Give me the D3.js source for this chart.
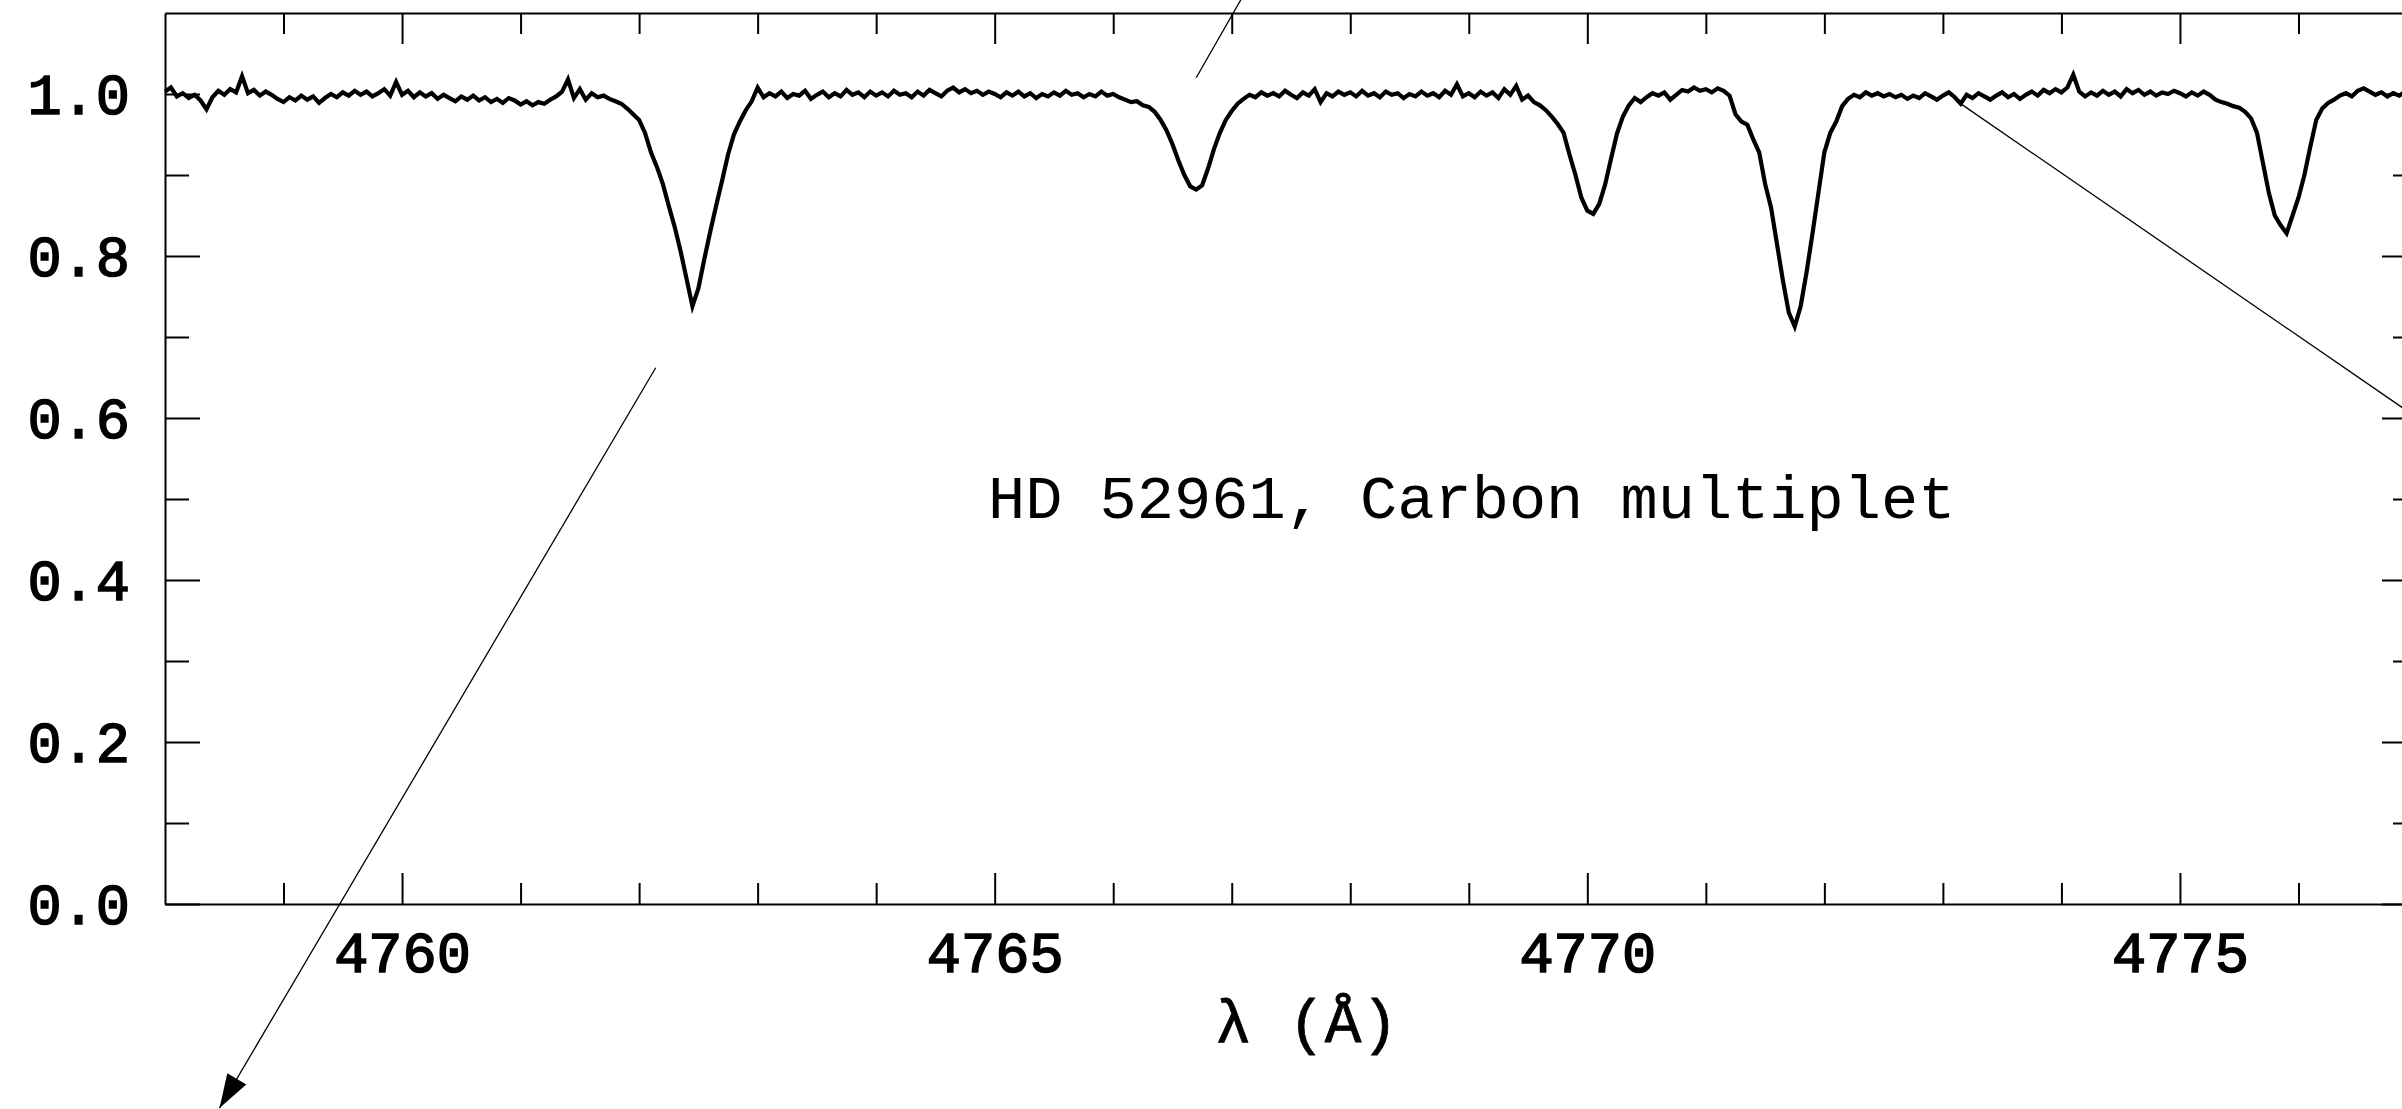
<!DOCTYPE html>
<html>
<head>
<meta charset="utf-8">
<script src="https://cdn.jsdelivr.net/npm/d3@7"></script>
<style>
  body { margin: 0; background: #fff; overflow: hidden; }
  .axis path, .axis line { stroke: #000; stroke-width: 2px; }
  .axis text { fill: #000; }
</style>
</head>
<body>
<div id="viz"></div>
<script>
// spectrum sampled every 0.05 A starting at 4758.00 A (normalised flux)
const lambdaStart = 4758.0;
const lambdaStep = 0.05;
const flux = [
  1.003, 1.008, 0.997, 1.001, 0.995, 0.999, 0.992, 0.981, 0.996, 1.004, 0.999, 1.006, 1.002, 1.022, 1.001, 1.005, 0.998, 1.003, 0.999, 0.994,
  0.990, 0.996, 0.992, 0.998, 0.993, 0.997, 0.989, 0.995, 1.000, 0.996, 1.002, 0.998, 1.004, 0.999, 1.003, 0.997, 1.001, 1.006, 0.998, 1.015,
  0.999, 1.004, 0.996, 1.002, 0.997, 1.001, 0.994, 0.999, 0.995, 0.991, 0.997, 0.993, 0.998, 0.992, 0.996, 0.990, 0.994, 0.989, 0.995, 0.992,
  0.987, 0.991, 0.986, 0.990, 0.988, 0.993, 0.997, 1.003, 1.018, 0.995, 1.006, 0.993, 1.001, 0.996, 0.998, 0.994, 0.991, 0.988, 0.982, 0.975,
  0.968, 0.952, 0.928, 0.910, 0.889, 0.862, 0.836, 0.806, 0.772, 0.738, 0.760, 0.796, 0.830, 0.862, 0.893, 0.925, 0.950, 0.966, 0.980, 0.991,
  1.008, 0.996, 1.001, 0.997, 1.003, 0.995, 1.000, 0.998, 1.004, 0.994, 0.999, 1.003, 0.996, 1.001, 0.997, 1.005, 0.999, 1.002, 0.996, 1.003,
  0.998, 1.002, 0.997, 1.004, 0.999, 1.001, 0.996, 1.003, 0.998, 1.005, 1.001, 0.997, 1.004, 1.008, 1.002, 1.006, 1.001, 1.004, 0.999, 1.003,
  1.000, 0.996, 1.002, 0.998, 1.003, 0.997, 1.001, 0.995, 1.000, 0.997, 1.002, 0.998, 1.004, 0.999, 1.001, 0.996, 1.000, 0.997, 1.003, 0.998,
  1.000, 0.996, 0.993, 0.990, 0.991, 0.986, 0.984, 0.978, 0.968, 0.955, 0.938, 0.918, 0.900, 0.886, 0.882, 0.887, 0.908, 0.932, 0.952, 0.968,
  0.979, 0.988, 0.994, 0.999, 0.996, 1.002, 0.998, 1.001, 0.997, 1.004, 0.999, 0.995, 1.002, 0.998, 1.006, 0.990, 1.001, 0.997, 1.003, 0.999,
  1.002, 0.997, 1.004, 0.998, 1.001, 0.996, 1.003, 0.999, 1.001, 0.995, 1.000, 0.997, 1.003, 0.998, 1.001, 0.996, 1.004, 0.999, 1.012, 0.997,
  1.001, 0.996, 1.003, 0.998, 1.002, 0.995, 1.006, 0.999, 1.010, 0.993, 0.998, 0.990, 0.986, 0.980, 0.972, 0.963, 0.952, 0.925, 0.900, 0.872,
  0.856, 0.852, 0.864, 0.888, 0.920, 0.951, 0.972, 0.986, 0.995, 0.990, 0.996, 1.001, 0.998, 1.002, 0.993, 0.999, 1.005, 1.003, 1.008, 1.004,
  1.006, 1.002, 1.007, 1.004, 0.998, 0.975, 0.966, 0.962, 0.944, 0.928, 0.889, 0.860, 0.815, 0.770, 0.730, 0.713, 0.738, 0.780, 0.828, 0.878,
  0.928, 0.952, 0.966, 0.985, 0.994, 0.999, 0.996, 1.002, 0.998, 1.001, 0.997, 1.000, 0.996, 0.999, 0.994, 0.998, 0.995, 1.001, 0.997, 0.993,
  0.998, 1.002, 0.996, 0.988, 0.999, 0.995, 1.001, 0.997, 0.993, 0.998, 1.002, 0.996, 1.000, 0.994, 0.999, 1.003, 0.998, 1.005, 1.001, 1.006,
  1.002, 1.008, 1.024, 1.003, 0.997, 1.002, 0.998, 1.004, 0.999, 1.003, 0.997, 1.006, 1.001, 1.005, 0.999, 1.003, 0.998, 1.002, 1.000, 1.004,
  1.001, 0.997, 1.002, 0.998, 1.003, 0.999, 0.993, 0.990, 0.988, 0.985, 0.983, 0.978, 0.970, 0.952, 0.915, 0.878, 0.850, 0.838, 0.828, 0.850,
  0.872, 0.900, 0.935, 0.968, 0.982, 0.989, 0.993, 0.998, 1.001, 0.997, 1.004, 1.007, 1.003, 0.999, 1.002, 0.997, 1.001, 0.998, 1.003, 0.999,
  1.001
];

const xMajorTicks = [4760, 4765, 4770, 4775];
const xMinorTicks = [4759, 4761, 4762, 4763, 4764, 4766, 4767, 4768, 4769, 4771, 4772, 4773, 4774, 4776];
const yMajorTicks = [0, 0.2, 0.4, 0.6, 0.8, 1.0];
const yMinorTicks = [0.1, 0.3, 0.5, 0.7, 0.9];

const titleText = 'HD 52961, Carbon multiplet';
const xLabel = 'λ (Å)';

// pointer lines, in data coordinates [lambda, flux]
const pointers = [
  { from: [4762.14, 0.662], to: [4758.46, -0.252], head: true },
  { from: [4766.70, 1.020], to: [4767.22, 1.153], head: false },
  { from: [4773.14, 0.989], to: [4777.53, 0.547], head: false }
];

(() => {
  let width = 2402,
    height = 1109;

  let svg = d3.select('#viz')
    .append('svg')
    .attr('width', width)
    .attr('height', height)
    .style('display', 'block');

  svg.append('rect')
    .attr('width', width)
    .attr('height', height)
    .attr('fill', '#fff');

  let x = d3.scaleLinear()
    .domain([4758, 4777])
    .range([165, 2417]);

  let y = d3.scaleLinear()
    .domain([0, 1.1])
    .range([904, 13]);

  let monoFont = '"Liberation Mono", "DejaVu Sans Mono", monospace';

  // tick labels are a touch heavier than the title text
  let styleTicks = sel => sel
    .attr('font-family', monoFont)
    .attr('font-size', 57)
    .attr('stroke', '#000')
    .attr('stroke-width', 1.6);

  // bottom axis
  let bottom = svg.append('g')
    .attr('class', 'axis')
    .attr('transform', `translate(0,${y(0)})`)
    .call(d3.axisBottom(x)
      .tickValues(xMajorTicks)
      .tickSize(-31)
      .tickSizeOuter(0)
      .tickPadding(0)
      .tickFormat(d3.format('d')));

  bottom.selectAll('text')
    .attr('y', 68)
    .attr('dy', 0)
    .call(styleTicks);

  svg.append('g')
    .attr('class', 'axis')
    .attr('transform', `translate(0,${y(0)})`)
    .call(d3.axisBottom(x)
      .tickValues(xMinorTicks)
      .tickSize(-21)
      .tickFormat(''))
    .call(g => g.select('.domain').remove());

  // top axis
  svg.append('g')
    .attr('class', 'axis')
    .attr('transform', `translate(0,${y(1.1)})`)
    .call(d3.axisTop(x)
      .tickValues(xMajorTicks)
      .tickSize(-31)
      .tickSizeOuter(0)
      .tickFormat(''));

  svg.append('g')
    .attr('class', 'axis')
    .attr('transform', `translate(0,${y(1.1)})`)
    .call(d3.axisTop(x)
      .tickValues(xMinorTicks)
      .tickSize(-21)
      .tickFormat(''))
    .call(g => g.select('.domain').remove());

  // left axis
  let left = svg.append('g')
    .attr('class', 'axis')
    .attr('transform', `translate(${x(4758)},0)`)
    .call(d3.axisLeft(y)
      .tickValues(yMajorTicks)
      .tickSize(-35)
      .tickSizeOuter(0)
      .tickPadding(35)
      .tickFormat(d3.format('.1f')));

  left.selectAll('text')
    .attr('dy', '0.34em')
    .call(styleTicks);

  svg.append('g')
    .attr('class', 'axis')
    .attr('transform', `translate(${x(4758)},0)`)
    .call(d3.axisLeft(y)
      .tickValues(yMinorTicks)
      .tickSize(-24)
      .tickFormat(''))
    .call(g => g.select('.domain').remove());

  // right axis (sits just past the picture edge)
  svg.append('g')
    .attr('class', 'axis')
    .attr('transform', `translate(${x(4777)},0)`)
    .call(d3.axisRight(y)
      .tickValues(yMajorTicks)
      .tickSize(-35)
      .tickSizeOuter(0)
      .tickFormat(''));

  svg.append('g')
    .attr('class', 'axis')
    .attr('transform', `translate(${x(4777)},0)`)
    .call(d3.axisRight(y)
      .tickValues(yMinorTicks)
      .tickSize(-24)
      .tickFormat(''))
    .call(g => g.select('.domain').remove());

  // spectrum
  let line = d3.line()
    .x((d, i) => x(lambdaStart + i * lambdaStep))
    .y(d => y(d));

  svg.append('path')
    .datum(flux)
    .attr('d', line)
    .attr('fill', 'none')
    .attr('stroke', '#000')
    .attr('stroke-width', 4.2)
    .attr('stroke-linejoin', 'miter');

  // title and axis label
  svg.append('text')
    .attr('x', 988)
    .attr('y', 518)
    .attr('font-family', monoFont)
    .attr('font-size', 62)
    .text(titleText);

  svg.append('text')
    .attr('x', 1215)
    .attr('y', 1042)
    .attr('font-family', monoFont)
    .attr('font-size', 61)
    .attr('stroke', '#000')
    .attr('stroke-width', 0.8)
    .text(xLabel);

  // pointer lines
  pointers.forEach(p => {
    let x1 = x(p.from[0]), y1 = y(p.from[1]),
      x2 = x(p.to[0]), y2 = y(p.to[1]);

    svg.append('line')
      .attr('x1', x1)
      .attr('y1', y1)
      .attr('x2', x2)
      .attr('y2', y2)
      .attr('stroke', '#000')
      .attr('stroke-width', 1.3);

    if (p.head) {
      let ang = Math.atan2(y2 - y1, x2 - x1),
        len = 34,
        half = 11;
      let bx = x2 - len * Math.cos(ang),
        by = y2 - len * Math.sin(ang);
      let pts = [
        [x2, y2],
        [bx + half * Math.sin(ang), by - half * Math.cos(ang)],
        [bx - half * Math.sin(ang), by + half * Math.cos(ang)]
      ];
      svg.append('path')
        .attr('d', 'M' + pts.map(q => q.join(',')).join('L') + 'Z')
        .attr('fill', '#000');
    }
  });
})();
</script>
</body>
</html>
